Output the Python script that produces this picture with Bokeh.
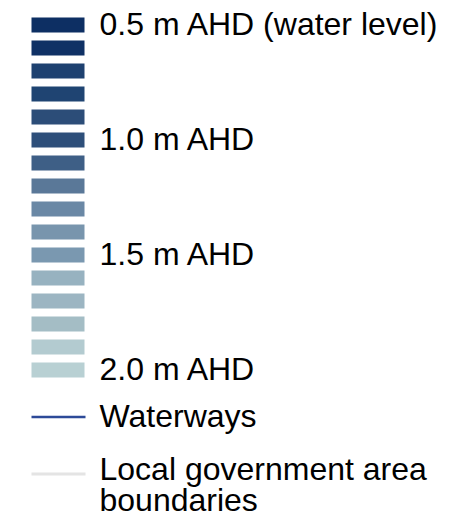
from bokeh.plotting import figure
from bokeh.models import Range1d, ColumnDataSource
from bokeh.core.properties import value
from bokeh.embed import file_html
from bokeh.resources import INLINE

# Data
levels = [0.5, 0.6, 0.7, 0.8, 0.9, 1.0, 1.1, 1.2, 1.3, 1.4, 1.5, 1.6, 1.7, 1.8, 1.9, 2.0]
colors = ["#0d2f63", "#0f3165", "#1e4170", "#1f4472", "#2c4d78", "#2e4f7a",
          "#3e5f86", "#5a7898", "#6a88a5", "#7895ad", "#7a98b0", "#97b2c0",
          "#9cb5c2", "#a4bdc5", "#b3cbd0", "#b8d0d3"]
label_levels = [0.5, 1.0, 1.5, 2.0]
label_texts = ["0.5 m AHD (water level)", "1.0 m AHD", "1.5 m AHD", "2.0 m AHD"]
line_items = ["Waterways", "Local government area\nboundaries"]
line_colors = ["#2d4a98", "#e4e4e4"]

W, H = 471, 524
p = figure(width=W, height=H, output_backend="svg", toolbar_location=None,
           x_range=Range1d(0, W), y_range=Range1d(H, 0),
           min_border=0, border_fill_color="white", background_fill_color="white")
p.axis.visible = False
p.grid.visible = False
p.outline_line_color = None

y0, step_px, step = 24.5, 23.0, 0.1
def ypos(lv):
    return y0 + (lv - levels[0]) / step * step_px

ys = [ypos(l) for l in levels]
src = ColumnDataSource(dict(top=[y - 7.5 for y in ys], bottom=[y + 7.5 for y in ys],
                            color=colors))
p.quad(left=31, right=84, top="top", bottom="bottom", fill_color="color",
       line_color=None, source=src)

font = value("Liberation Sans")
fs = "32px"
dy = -12.5  # baseline correction
p.text(x=[99] * len(label_levels), y=[ypos(l) + 11.5 + dy for l in label_levels],
       text=label_texts, text_font=font, text_font_size=fs,
       text_color="#000000", text_baseline="alphabetic", text_align="left")

# line legend items
p.segment(x0=[31], y0=[416.5], x1=[85], y1=[416.5], line_color=line_colors[0], line_width=2.5)
p.segment(x0=[31], y0=[473.5], x1=[85], y1=[473.5], line_color=line_colors[1], line_width=3)
p.text(x=[99], y=[428 + dy], text=[line_items[0]], text_font=font, text_font_size=fs,
       text_color="#000000", text_baseline="alphabetic")
parts = line_items[1].split("\n")
p.text(x=[99, 99], y=[481 + dy, 512 + dy], text=parts, text_font=font, text_font_size=fs,
       text_color="#000000", text_baseline="alphabetic")

open("out.html", "w").write(file_html(p, INLINE))
